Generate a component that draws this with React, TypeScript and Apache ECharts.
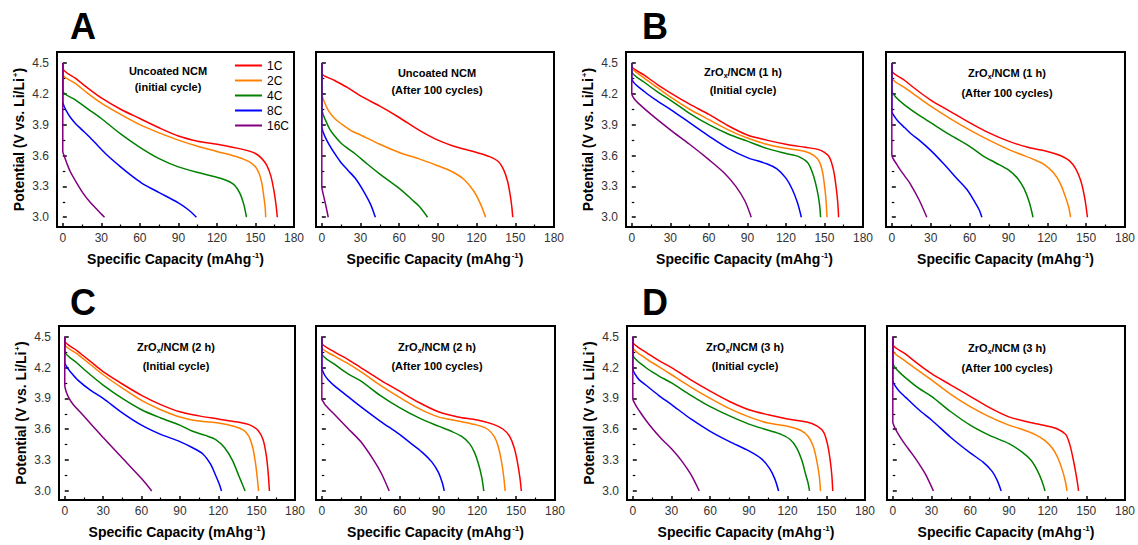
import React, { useEffect, useRef } from 'react';
import * as echarts from 'echarts';

const FONT = 'Arial, "Liberation Sans", Helvetica, sans-serif';

const rateNames = ['1C', '2C', '4C', '8C', '16C'];
const rateColors = ['#ff0000', '#ff8000', '#008000', '#0000ff', '#800080'];
const xMajorTicks = [0, 30, 60, 90, 120, 150, 180];
const xMinorTicks = [15, 45, 75, 105, 135, 165];
const yMajorTicks = [3.0, 3.3, 3.6, 3.9, 4.2, 4.5];
const yMinorTicks = [3.15, 3.45, 3.75, 4.05, 4.35];

// Each panel: [1C, 2C, 4C, 8C, 16C], each curve: [capacity (mAh/g), potential (V)]
const uncoatedInitial = [
  [[0,4.5],[0,4.45],[10,4.35],[20,4.25],[30,4.16],[45,4.05],[60,3.96],[75,3.87],[90,3.79],[105,3.74],[120,3.71],[140,3.66],[150,3.62],[155,3.57],[159,3.5],[162,3.4],[164.5,3.25],[166,3.12],[167,3.0]],
  [[0,4.5],[0,4.39],[10,4.3],[20,4.2],[30,4.11],[45,4.0],[60,3.9],[75,3.82],[90,3.75],[105,3.69],[120,3.64],[135,3.59],[145,3.54],[150,3.49],[153,3.42],[155,3.33],[156.5,3.2],[157.5,3.1],[158,3.0]],
  [[0,4.5],[0,4.23],[10,4.14],[20,4.05],[30,3.96],[45,3.81],[60,3.68],[75,3.57],[90,3.49],[110,3.42],[125,3.37],[133,3.32],[138,3.23],[141,3.12],[143,3.0]],
  [[0,4.5],[0,4.12],[1,4.08],[3,4.03],[6,3.97],[10,3.91],[15,3.85],[20,3.79],[27,3.7],[34,3.61],[45,3.49],[55,3.39],[63,3.32],[75,3.24],[90,3.14],[98,3.07],[104,3.0]],
  [[0,4.5],[0,3.64],[1,3.6],[3,3.53],[6,3.44],[11,3.33],[16,3.23],[21,3.15],[27,3.07],[32.5,3.0]],
];
const uncoatedAfter = [
  [[0,4.5],[0,4.4],[10,4.33],[20,4.26],[30,4.18],[45,4.08],[60,3.97],[75,3.85],[90,3.75],[105,3.68],[120,3.63],[130,3.59],[137,3.54],[141,3.46],[144,3.35],[146,3.22],[147.3,3.1],[148,3.0]],
  [[0,4.5],[0,4.2],[2,4.12],[5,4.04],[10,3.96],[16,3.9],[23,3.84],[30,3.8],[45,3.71],[60,3.63],[75,3.57],[90,3.5],[100,3.45],[110,3.37],[118,3.25],[123,3.13],[127,3.0]],
  [[0,4.5],[0,4.06],[1,4.0],[3,3.94],[6,3.86],[10,3.79],[15,3.72],[20,3.67],[26.5,3.61],[35,3.52],[45,3.42],[60,3.28],[70,3.17],[76,3.1],[82,3.0]],
  [[0,4.5],[0,3.88],[1,3.83],[3,3.77],[6,3.7],[10,3.62],[15,3.53],[20,3.46],[26.5,3.37],[33,3.24],[38,3.12],[41.5,3.0]],
  [[0,4.5],[0,3.3],[1,3.23],[3,3.12],[5,3.0]],
];
const zr1hInitial = [
  [[0,4.5],[0,4.47],[10,4.38],[20,4.29],[30,4.21],[45,4.1],[60,4.0],[75,3.89],[90,3.8],[105,3.75],[120,3.71],[135,3.68],[145,3.66],[150,3.63],[154,3.58],[157,3.46],[159,3.3],[160.3,3.15],[161,3.0]],
  [[0,4.5],[0,4.46],[10,4.35],[20,4.26],[30,4.17],[45,4.05],[60,3.95],[75,3.85],[90,3.77],[105,3.71],[120,3.67],[135,3.64],[142,3.6],[146,3.54],[148.5,3.44],[150.3,3.28],[151.3,3.15],[152,3.0]],
  [[0,4.5],[0,4.42],[10,4.31],[20,4.22],[30,4.14],[45,4.01],[60,3.9],[75,3.81],[90,3.74],[105,3.67],[120,3.62],[130,3.59],[137,3.53],[141,3.42],[144,3.28],[146,3.14],[147,3.0]],
  [[0,4.5],[0,4.35],[10,4.22],[20,4.13],[30,4.05],[45,3.92],[60,3.79],[75,3.67],[90,3.58],[105,3.52],[113,3.47],[120,3.38],[125,3.27],[129,3.14],[132,3.0]],
  [[0,4.5],[0,4.2],[2,4.15],[5,4.11],[15,4.0],[30,3.85],[45,3.71],[60,3.56],[72,3.43],[81,3.3],[88,3.16],[93,3.0]],
];
const zr1hAfter = [
  [[0,4.5],[0,4.43],[10,4.33],[20,4.23],[30,4.14],[45,4.03],[60,3.92],[75,3.82],[90,3.74],[105,3.68],[120,3.64],[130,3.6],[137,3.55],[142,3.47],[146,3.35],[149,3.18],[151,3.0]],
  [[0,4.5],[0,4.36],[10,4.26],[20,4.17],[30,4.08],[45,3.96],[60,3.85],[75,3.75],[90,3.66],[100,3.61],[110,3.56],[118,3.51],[125,3.43],[130,3.33],[134,3.2],[136.5,3.1],[138,3.0]],
  [[0,4.5],[0,4.23],[3,4.17],[10,4.09],[20,4.0],[30,3.92],[45,3.8],[60,3.69],[70,3.6],[80,3.53],[90,3.46],[97,3.38],[102,3.28],[106,3.15],[109,3.0]],
  [[0,4.5],[0,4.03],[2,3.98],[5,3.93],[10,3.87],[15,3.81],[22,3.74],[30,3.65],[40,3.52],[50,3.38],[58,3.27],[64,3.15],[67.5,3.07],[69.5,3.0]],
  [[0,4.5],[0,3.61],[1,3.57],[3,3.53],[6,3.47],[10,3.4],[14,3.33],[21,3.17],[27,3.0]],
];
const zr2hInitial = [
  [[0,4.5],[0,4.46],[10,4.36],[20,4.26],[30,4.16],[45,4.04],[60,3.93],[75,3.84],[90,3.77],[105,3.73],[120,3.7],[135,3.67],[145,3.64],[151,3.59],[155,3.5],[157.5,3.35],[159,3.18],[160,3.0]],
  [[0,4.5],[0,4.43],[10,4.33],[20,4.23],[30,4.13],[45,4.0],[60,3.88],[75,3.79],[90,3.72],[105,3.68],[120,3.66],[132,3.63],[140,3.59],[144,3.53],[147,3.42],[149,3.28],[150.5,3.13],[151.5,3.0]],
  [[0,4.5],[0,4.36],[10,4.24],[20,4.13],[30,4.03],[45,3.9],[60,3.79],[75,3.71],[90,3.64],[100,3.58],[110,3.54],[118,3.5],[125,3.42],[131,3.3],[136,3.15],[139,3.06],[141,3.0]],
  [[0,4.5],[0,4.25],[2,4.2],[5,4.15],[10,4.08],[20,3.98],[30,3.9],[45,3.76],[60,3.64],[75,3.55],[90,3.48],[100,3.42],[108,3.36],[114,3.26],[118,3.15],[121,3.06],[122.5,3.0]],
  [[0,4.5],[0,4.03],[1,3.97],[3,3.91],[6,3.85],[14,3.74],[22,3.63],[30,3.52],[45,3.32],[60,3.12],[68,3.0]],
];
const zr2hAfter = [
  [[0,4.5],[0,4.44],[10,4.35],[20,4.28],[30,4.2],[45,4.08],[60,3.97],[75,3.86],[90,3.77],[105,3.72],[120,3.69],[132,3.65],[140,3.6],[145,3.53],[148.5,3.42],[151,3.28],[153,3.12],[154,3.0]],
  [[0,4.5],[0,4.4],[10,4.31],[20,4.24],[30,4.16],[45,4.03],[60,3.91],[75,3.8],[90,3.72],[105,3.68],[120,3.64],[128,3.6],[133,3.53],[136,3.44],[138.5,3.3],[140.3,3.15],[141.5,3.0]],
  [[0,4.5],[0,4.34],[10,4.23],[20,4.14],[30,4.07],[45,3.93],[60,3.81],[75,3.71],[90,3.63],[100,3.58],[108,3.53],[114,3.46],[118,3.37],[121,3.26],[123.5,3.13],[125,3.0]],
  [[0,4.5],[0,4.2],[2,4.13],[5,4.08],[10,4.02],[20,3.92],[30,3.82],[45,3.68],[60,3.55],[70,3.45],[78,3.37],[85,3.28],[90,3.18],[93,3.08],[94.5,3.0]],
  [[0,4.5],[0,3.89],[1,3.87],[3,3.83],[10,3.74],[20,3.61],[30,3.48],[40,3.3],[46,3.17],[52,3.0]],
];
const zr3hInitial = [
  [[0,4.5],[0,4.45],[10,4.35],[20,4.27],[30,4.2],[45,4.08],[60,3.97],[75,3.87],[90,3.79],[105,3.74],[120,3.7],[135,3.67],[143,3.63],[148,3.57],[151,3.45],[153,3.3],[154.3,3.15],[155,3.0]],
  [[0,4.5],[0,4.4],[10,4.29],[20,4.21],[30,4.13],[45,4.01],[60,3.9],[75,3.8],[90,3.72],[105,3.66],[120,3.63],[130,3.59],[136,3.53],[140,3.43],[142.5,3.3],[144.5,3.15],[145.5,3.0]],
  [[0,4.5],[0,4.33],[10,4.2],[20,4.12],[30,4.05],[45,3.93],[60,3.82],[75,3.73],[90,3.65],[105,3.59],[115,3.55],[122,3.5],[127,3.42],[131,3.3],[134,3.16],[136,3.07],[137,3.0]],
  [[0,4.5],[0,4.19],[2,4.13],[5,4.08],[10,4.03],[20,3.93],[30,3.84],[45,3.7],[60,3.58],[75,3.48],[90,3.39],[100,3.31],[106,3.22],[110,3.12],[113,3.0]],
  [[0,4.5],[0,3.9],[2,3.84],[5,3.78],[10,3.69],[15,3.61],[22,3.51],[30,3.41],[38,3.29],[45,3.16],[51.5,3.0]],
];
const zr3hAfter = [
  [[0,4.5],[0,4.43],[10,4.33],[20,4.23],[30,4.14],[45,4.03],[60,3.92],[75,3.81],[90,3.72],[105,3.67],[120,3.63],[128,3.6],[134,3.55],[137,3.46],[139.5,3.33],[141.5,3.2],[143,3.09],[144,3.0]],
  [[0,4.5],[0,4.37],[10,4.26],[20,4.17],[30,4.08],[45,3.94],[60,3.82],[75,3.72],[90,3.64],[100,3.6],[110,3.55],[118,3.49],[124,3.41],[128,3.32],[131.5,3.2],[134,3.08],[135,3.0]],
  [[0,4.5],[0,4.25],[3,4.18],[10,4.1],[20,4.0],[30,3.92],[45,3.77],[60,3.64],[75,3.54],[90,3.46],[100,3.38],[107,3.3],[112,3.2],[115.5,3.1],[118,3.0]],
  [[0,4.5],[0,4.07],[2,4.02],[5,3.97],[10,3.91],[15,3.85],[22,3.77],[30,3.69],[45,3.52],[60,3.37],[70,3.28],[77,3.19],[81,3.1],[84,3.0]],
  [[0,4.5],[0,3.67],[1,3.63],[3,3.58],[8,3.48],[15,3.36],[20,3.27],[25,3.17],[31.5,3.0]],
];

const panelData = [uncoatedInitial, uncoatedAfter, zr1hInitial, zr1hAfter, zr2hInitial, zr2hAfter, zr3hInitial, zr3hAfter];
const panelTitles = ['Uncoated NCM', 'Uncoated NCM', 'ZrO{sub|x}/NCM (1 h)', 'ZrO{sub|x}/NCM (1 h)', 'ZrO{sub|x}/NCM (2 h)', 'ZrO{sub|x}/NCM (2 h)', 'ZrO{sub|x}/NCM (3 h)', 'ZrO{sub|x}/NCM (3 h)'];
const panelSubtitles = ['(initial cycle)', '(After 100 cycles)', '(Initial cycle)', '(After 100 cycles)', '(Initial cycle)', '(After 100 cycles)', '(Initial cycle)', '(After 100 cycles)'];
const panelLetters = ['A', 'B', 'C', 'D'];

// layout (pixels)
const gridBoxes = [
  { left: 57, top: 52, width: 237, height: 175 },
  { left: 316, top: 52, width: 238, height: 175 },
  { left: 626, top: 52, width: 237, height: 175 },
  { left: 886, top: 52, width: 239, height: 175 },
  { left: 59, top: 326, width: 236, height: 174 },
  { left: 316, top: 326, width: 239, height: 174 },
  { left: 627, top: 326, width: 238, height: 174 },
  { left: 887, top: 326, width: 238, height: 174 },
];
const titlePos = [
  [168, 71, 87], [437, 73, 89.5], [743, 72, 90], [1007, 73, 92.5],
  [176, 347, 366], [437, 347, 366], [745, 347, 366], [1007, 348, 367.5],
];
const letterPos = [[70, 26], [642, 26], [70, 302], [642, 302]];

export default function App() {
  const ref = useRef<HTMLDivElement>(null);
  useEffect(() => {
    if (!ref.current) return;
    const chart = echarts.init(ref.current, null, { renderer: 'svg' });
    const grids: any[] = [];
    const xAxes: any[] = [];
    const yAxes: any[] = [];
    const series: any[] = [];
    const graphics: any[] = [];
    const n = gridBoxes.length;
    const supStyle = { fontSize: 8, fontWeight: 'bold', color: '#000', fontFamily: FONT, verticalAlign: 'top', padding: [0, 0, 8, 1] };
    gridBoxes.forEach((g, i) => {
      const isLeft = i % 2 === 0;
      const top = i < 4;
      const yMin = top ? 2.905 : 2.912;
      const yMax = top ? 4.607 : 4.604;
      grids.push({ ...g, show: true, borderColor: '#000', borderWidth: 2, backgroundColor: 'transparent' });
      xAxes[i] = {
        type: 'value', gridIndex: i, min: -4.5, max: 180, position: 'bottom',
        axisLine: { show: false }, splitLine: { show: false },
        axisTick: { inside: true, length: 4, customValues: xMajorTicks, lineStyle: { color: '#000', width: 1.5 } },
        axisLabel: { customValues: xMajorTicks, margin: 5, fontSize: 12, color: '#333', fontFamily: FONT },
        name: 'Specific Capacity (mAhg{sup|-1})', nameLocation: 'middle', nameGap: 24,
        nameTextStyle: { fontSize: 14, fontWeight: 'bold', color: '#000', fontFamily: FONT, rich: { sup: supStyle } },
      };
      xAxes[n + i] = {
        type: 'value', gridIndex: i, min: -4.5, max: 180, position: 'bottom',
        axisLine: { show: false }, splitLine: { show: false }, axisLabel: { show: false },
        axisTick: { inside: true, length: 2.5, customValues: xMinorTicks, lineStyle: { color: '#000', width: 1.2 } },
      };
      yAxes[i] = {
        type: 'value', gridIndex: i, min: yMin, max: yMax, position: 'left',
        axisLine: { show: false }, splitLine: { show: false },
        axisTick: { inside: true, length: 4, customValues: yMajorTicks, lineStyle: { color: '#000', width: 1.5 } },
        axisLabel: { show: isLeft, customValues: yMajorTicks, margin: 8, fontSize: 12, color: '#333', fontFamily: FONT, formatter: (v: number) => v.toFixed(1) },
        name: isLeft ? 'Potential (V vs. Li/Li{sup|+})' : '', nameLocation: 'middle', nameGap: 30, nameRotate: 90,
        nameTextStyle: { fontSize: 14, fontWeight: 'bold', color: '#000', fontFamily: FONT, rich: { sup: supStyle } },
      };
      yAxes[n + i] = {
        type: 'value', gridIndex: i, min: yMin, max: yMax, position: 'left',
        axisLine: { show: false }, splitLine: { show: false }, axisLabel: { show: false },
        axisTick: { inside: true, length: 2.5, customValues: yMinorTicks, lineStyle: { color: '#000', width: 1.2 } },
      };
      panelData[i].forEach((curve, k) => {
        series.push({
          type: 'line', name: rateNames[k], xAxisIndex: i, yAxisIndex: i,
          data: curve, symbol: 'none', showSymbol: false, smooth: 0.3,
          lineStyle: { color: rateColors[k], width: 1.5 }, itemStyle: { color: rateColors[k] },
          z: 2 + k,
        });
      });
      const tp = titlePos[i];
      graphics.push({
        type: 'text', x: tp[0], y: tp[1],
        style: {
          text: panelTitles[i], fill: '#000', fontSize: 11, fontWeight: 'bold', fontFamily: FONT,
          align: 'center', verticalAlign: 'middle',
          rich: { sub: { fontSize: 7, fontWeight: 'bold', fill: '#000', fontFamily: FONT, verticalAlign: 'bottom', padding: [6, 0, 0, 0] } },
        },
      });
      graphics.push({
        type: 'text', x: tp[0], y: tp[2],
        style: { text: panelSubtitles[i], fill: '#000', fontSize: 11, fontWeight: 'bold', fontFamily: FONT, align: 'center', verticalAlign: 'middle' },
      });
    });
    panelLetters.forEach((L, j) => {
      graphics.push({
        type: 'text', x: letterPos[j][0], y: letterPos[j][1],
        style: { text: L, fill: '#000', fontSize: 36, fontWeight: 'bold', fontFamily: FONT, align: 'left', verticalAlign: 'middle' },
      });
    });
    chart.setOption({
      animation: false,
      backgroundColor: '#fff',
      grid: grids,
      xAxis: xAxes,
      yAxis: yAxes,
      series,
      graphic: graphics,
      legend: {
        data: rateNames, left: 230, top: 53, orient: 'vertical', icon: 'rect',
        itemWidth: 27, itemHeight: 2, itemGap: 0,
        textStyle: { fontSize: 12, lineHeight: 15, color: '#000', fontFamily: FONT },
      },
    });
    return () => chart.dispose();
  }, []);
  return <div ref={ref} style={{ position: 'fixed', left: 0, top: 0, width: 1138, height: 545, background: '#fff' }} />;
}
